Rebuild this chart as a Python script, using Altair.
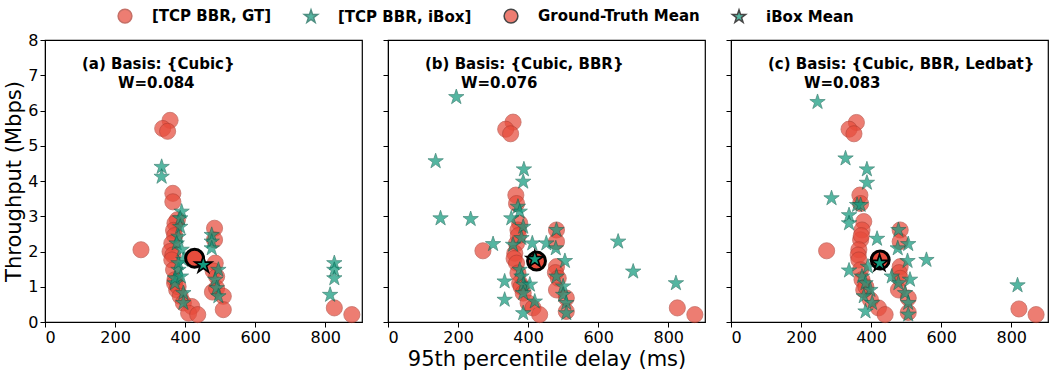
import altair as alt
import pandas as pd

# ---------------- data ----------------
panel_ids = ["a", "b", "c"]
captions = ["(a) Basis: {Cubic}", "(b) Basis: {Cubic, BBR}", "(c) Basis: {Cubic, BBR, Ledbat}"]
w_labels = ["W=0.084", "W=0.076", "W=0.083"]

gt_a_x = [357, 336, 350, 365, 365, 274, 484, 484, 378, 371, 367, 370, 362, 357, 365, 362, 367, 371, 370, 376, 380, 386, 395,
          486, 480, 490, 478, 490, 509, 509, 419, 410, 436, 826, 876]
gt_a_y = [5.72, 5.49, 5.41, 3.65, 3.41, 2.05, 2.66, 2.33, 2.90, 2.80, 2.60, 2.45, 2.23, 2.00, 1.90, 1.76, 1.48, 1.20, 1.10, 0.91, 1.00, 0.73, 0.54,
          1.67, 1.45, 1.29, 0.85, 0.96, 0.73, 0.35, 0.44, 0.25, 0.21, 0.40, 0.21]

gt_b_x = [357, 336, 350, 365, 367, 271, 481, 481, 376, 371, 367, 372, 362, 360, 367, 371, 376, 380, 386, 400,
          481, 478, 486, 481, 509, 509, 414, 433, 826, 876]
gt_b_y = [5.67, 5.47, 5.34, 3.60, 3.36, 2.02, 2.61, 2.28, 2.80, 2.61, 2.23, 2.45, 1.95, 1.80, 1.67, 1.39, 1.10, 1.00, 0.82, 0.54,
          1.57, 1.40, 1.24, 0.91, 0.68, 0.30, 0.40, 0.21, 0.40, 0.21]

gt_c_x = [358, 337, 351, 368, 370, 273, 483, 483, 379, 374, 370, 372, 365, 363, 365, 370, 374, 379, 385, 398,
          483, 480, 483, 478, 506, 506, 421, 440, 822, 871]
gt_c_y = [5.66, 5.47, 5.34, 3.60, 3.36, 2.02, 2.61, 2.28, 2.85, 2.61, 2.33, 2.45, 2.05, 1.90, 1.76, 1.48, 1.20, 0.91, 1.00, 0.63,
          1.57, 1.40, 1.24, 0.91, 0.68, 0.27, 0.40, 0.21, 0.37, 0.21]

ibox_a_x = [333, 333, 390, 386, 386, 381, 376, 390, 395, 381, 371, 371, 395, 395, 476, 476, 476, 495, 486, 490, 495,
            826, 826, 826, 814, 381, 388]
ibox_a_y = [4.40, 4.12, 3.13, 2.94, 2.70, 2.42, 2.23, 2.05, 1.76, 1.48, 1.10, 1.24, 0.82, 0.54, 2.47, 2.28, 2.09, 1.48, 1.20, 0.96, 0.73,
            1.67, 1.48, 1.24, 0.77, 1.67, 1.29]

ibox_b_x = [195, 136, 388, 386, 150, 236, 371, 376, 352, 386, 381, 357, 300, 412, 452, 481, 479, 505, 657, 700, 822,
            333, 333, 376, 381, 386, 405, 386, 419, 386, 481, 500, 500, 509, 509]
ibox_b_y = [6.38, 4.56, 4.33, 3.98, 2.94, 2.92, 3.27, 3.13, 2.94, 2.70, 2.38, 2.19, 2.21, 2.23, 2.23, 2.61, 2.09, 1.73, 2.28, 1.43, 1.10,
            1.15, 0.63, 1.48, 1.29, 1.06, 1.06, 0.82, 0.58, 0.25, 1.29, 1.01, 0.77, 0.54, 0.25]

ibox_c_x = [247, 327, 388, 388, 287, 360, 370, 337, 337, 417, 478, 476, 506, 504, 558, 337, 374, 384, 398, 379, 403, 384,
            459, 478, 511, 497, 506, 506, 818, 391]
ibox_c_y = [6.24, 4.64, 4.33, 3.95, 3.51, 3.32, 3.32, 3.03, 2.80, 2.36, 2.61, 2.09, 2.21, 1.73, 1.76, 1.46, 1.29, 1.10, 0.91, 0.73, 0.54, 0.30,
            1.29, 1.10, 1.20, 0.82, 0.54, 0.21, 1.04, 1.57]

gt_mean_x = [427, 424, 426]
gt_mean_y = [1.81, 1.73, 1.76]
ibox_mean_x = [452, 419, 424]
ibox_mean_y = [1.62, 1.78, 1.67]

kinds = ["[TCP BBR, GT]", "[TCP BBR, iBox]", "Ground-Truth Mean", "iBox Mean"]
RED = "#e74c3c"
TEAL = "#139a7e"
STAR = ("M0,-1L0.225,-0.309L0.951,-0.309L0.363,0.118L0.588,0.809L0,0.382"
        "L-0.588,0.809L-0.363,0.118L-0.951,-0.309L-0.225,-0.309Z")

gt_x = {"a": gt_a_x, "b": gt_b_x, "c": gt_c_x}
gt_y = {"a": gt_a_y, "b": gt_b_y, "c": gt_c_y}
ib_x = {"a": ibox_a_x, "b": ibox_b_x, "c": ibox_c_x}
ib_y = {"a": ibox_a_y, "b": ibox_b_y, "c": ibox_c_y}

color_scale = alt.Scale(domain=kinds, range=[RED, TEAL, RED, TEAL])
shape_scale = alt.Scale(domain=kinds, range=["circle", STAR, "circle", STAR])
stroke_scale = alt.Scale(domain=kinds, range=["#b03a2e", "#0b6452", "black", "black"])

legend = alt.Legend(
    title=None, orient="none", direction="horizontal", columns=4,
    legendX=72, legendY=-32,
    labelFontSize=15, labelFontWeight="bold", labelLimit=0,
    labelFont="DejaVu Sans", labelColor="black", symbolSize=190,
    labelOffset=19, columnPadding=29, symbolStrokeWidth=1.5,
)


def panel(i):
    p = panel_ids[i]
    pts = pd.concat([
        pd.DataFrame({"x": gt_x[p], "y": gt_y[p], "kind": kinds[0]}),
        pd.DataFrame({"x": ib_x[p], "y": ib_y[p], "kind": kinds[1]}),
    ], ignore_index=True)
    means = pd.DataFrame({"x": [gt_mean_x[i], ibox_mean_x[i]], "y": [gt_mean_y[i], ibox_mean_y[i]],
                          "kind": [kinds[2], kinds[3]]})

    x_axis = alt.Axis(values=[0, 200, 400, 600, 800], title="95th percentile delay (ms)" if i == 1 else None)
    y_axis = alt.Axis(values=list(range(9)), title="Throughput (Mbps)" if i == 0 else None,
                      labels=(i == 0))
    X = alt.X("x:Q", scale=alt.Scale(domain=[0, 905], nice=False), axis=x_axis)
    Y = alt.Y("y:Q", scale=alt.Scale(domain=[0, 8], nice=False), axis=y_axis)

    C = alt.Color("kind:N", scale=color_scale, legend=legend)
    S = alt.Shape("kind:N", scale=shape_scale, legend=legend)
    K = alt.Stroke("kind:N", scale=stroke_scale, legend=legend)

    points = alt.Chart(pts).mark_point(filled=True, size=260, opacity=0.72, strokeWidth=0.8).encode(
        x=X, y=Y, color=C, shape=S, stroke=K)
    mean_pts = alt.Chart(means).mark_point(filled=True, opacity=1, size=320).encode(
        x=X, y=Y, color=C, shape=S, stroke=K,
        strokeWidth=alt.condition("datum.kind == 'Ground-Truth Mean'", alt.value(3), alt.value(1.6)))

    cap = pd.DataFrame({"t1": [captions[i]], "t2": [w_labels[i]]})
    t1 = alt.Chart(cap).mark_text(align="left", baseline="middle", fontSize=15, fontWeight="bold",
                                  font="DejaVu Sans", color="black").encode(
        text="t1:N", x=alt.value(37), y=alt.value(24))
    t2 = alt.Chart(cap).mark_text(align="left", baseline="middle", fontSize=15, fontWeight="bold",
                                  font="DejaVu Sans", color="black").encode(
        text="t2:N", x=alt.value(73), y=alt.value(43))
    return alt.layer(points, mean_pts, t1, t2).properties(width=317, height=282)


chart = alt.hconcat(panel(0), panel(1), panel(2), spacing=18).configure_view(
    stroke="black", strokeWidth=1.2
).configure_axis(
    grid=False, domainColor="black", tickColor="black", labelColor="black", titleColor="black",
    labelFont="DejaVu Sans", titleFont="DejaVu Sans", labelFontSize=16, titleFontSize=21,
    titleFontWeight="normal", tickSize=5, labelPadding=2, titlePadding=3,
).properties(padding={"left": 3, "top": 8, "right": 5, "bottom": 3})

chart.save("out.html", embed_options={"renderer": "svg", "actions": False})
